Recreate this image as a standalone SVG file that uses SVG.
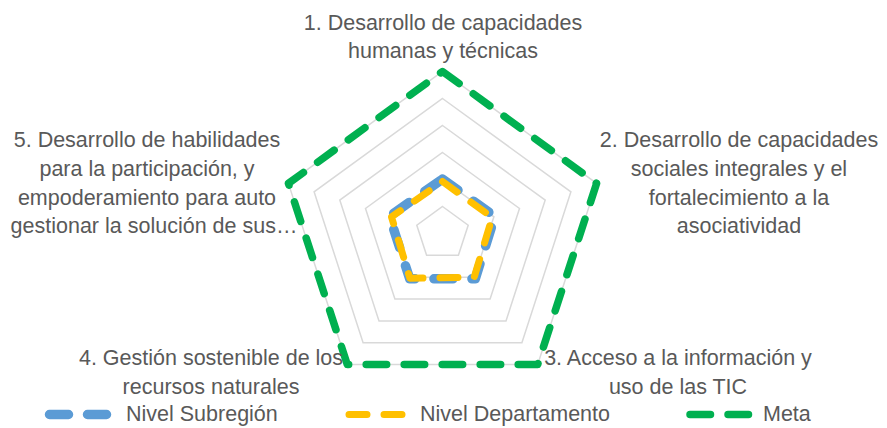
<svg xmlns="http://www.w3.org/2000/svg" width="887" height="428" viewBox="0 0 887 428">
<style>
.lbl{font-family:"Liberation Sans",Arial,sans-serif;font-size:21.5px;fill:#595959;text-anchor:middle}
.leg{font-family:"Liberation Sans",Arial,sans-serif;font-size:21.5px;fill:#595959}
.grid{fill:none;stroke:#D9D9D9;stroke-width:1.5}
.sub{fill:none;stroke:#5B9BD5;stroke-width:9.5;stroke-linecap:round;stroke-linejoin:round;stroke-dasharray:19 19}
.dep{fill:none;stroke:#FFC000;stroke-width:7;stroke-linecap:round;stroke-linejoin:round;stroke-dasharray:18 17}
.meta{fill:none;stroke:#00B050;stroke-width:7.5;stroke-linecap:round;stroke-linejoin:round;stroke-dasharray:20.5 17.5}
</style>
<rect width="887" height="428" fill="#FFFFFF"/>
<g id="grid">
<polygon class="grid" points="442.5,206.5 468.2,225.2 458.4,255.3 426.6,255.3 416.8,225.2"/>
<polygon class="grid" points="442.5,179.5 493.9,216.8 474.2,277.2 410.8,277.2 391.1,216.8"/>
<polygon class="grid" points="442.5,152.5 519.5,208.5 490.1,299.0 394.9,299.0 365.5,208.5"/>
<polygon class="grid" points="442.5,125.5 545.2,200.1 506.0,320.9 379.0,320.9 339.8,200.1"/>
<polygon class="grid" points="442.5,98.5 570.9,191.8 521.9,342.7 363.1,342.7 314.1,191.8"/>
<polygon class="grid" points="442.5,71.5 596.6,183.4 537.7,364.6 347.3,364.6 288.4,183.4"/>
</g>
<g id="connectors">
<path id="series-subregion" class="sub" d="M442.5,179 L494.8,216.5 L475.3,278.8 L409.7,278.8 L389.5,216.3 Z"/>
<path id="series-departamento" class="dep" d="M442.5,181.5 L492.2,217.4 L474.2,277.2 L409.9,278.3 L391.5,216.9 Z"/>
<path id="series-meta" class="meta" d="M442.5,71.5 L596.6,183.4 L537.7,364.6 L347.3,364.6 L288.4,183.4 Z"/>
</g>
<g id="axis1">
<text class="lbl" x="443" y="30">1. Desarrollo de capacidades</text>
<text class="lbl" x="443" y="57.5">humanas y técnicas</text>
</g>
<g id="axis2">
<text class="lbl" x="739" y="147">2. Desarrollo de capacidades</text>
<text class="lbl" x="739" y="176">sociales integrales y el</text>
<text class="lbl" x="739" y="204.5">fortalecimiento a la</text>
<text class="lbl" x="739" y="233">asociatividad</text>
</g>
<g id="axis3">
<text class="lbl" x="678" y="365">3. Acceso a la información y</text>
<text class="lbl" x="678" y="393.5">uso de las TIC</text>
</g>
<g id="axis4">
<text class="lbl" x="211" y="365">4. Gestión sostenible de los</text>
<text class="lbl" x="211" y="393.5">recursos naturales</text>
</g>
<g id="axis5">
<text class="lbl" x="147" y="147">5. Desarrollo de habilidades</text>
<text class="lbl" x="147" y="176">para la participación, y</text>
<text class="lbl" x="147" y="204.5">empoderamiento para auto</text>
<text class="lbl" x="154" y="233">gestionar la solución de sus…</text>
</g>
<g id="legend">
<line class="sub" x1="49.5" y1="414.5" x2="107" y2="414.5"/>
<text class="leg" x="126" y="420.5">Nivel Subregión</text>
<line class="dep" x1="349" y1="414.5" x2="402" y2="414.5"/>
<text class="leg" x="420" y="420.5">Nivel Departamento</text>
<line class="meta" x1="690" y1="414.5" x2="750.5" y2="414.5"/>
<text class="leg" x="763" y="420.5">Meta</text>
</g>
</svg>
